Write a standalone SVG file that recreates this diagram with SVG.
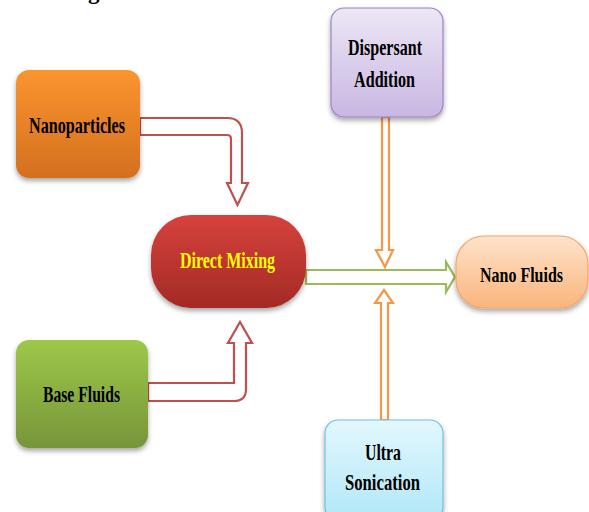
<svg xmlns="http://www.w3.org/2000/svg" width="589" height="512" viewBox="0 0 589 512">
<defs>
<linearGradient id="gOrange" x1="0" y1="0" x2="0" y2="1"><stop offset="0" stop-color="#FA952F"/><stop offset="1" stop-color="#D4701E"/></linearGradient>
<linearGradient id="gRed" x1="0" y1="0" x2="0" y2="1"><stop offset="0" stop-color="#D6423C"/><stop offset="1" stop-color="#A32A26"/></linearGradient>
<linearGradient id="gGreen" x1="0" y1="0" x2="0" y2="1"><stop offset="0" stop-color="#9DC849"/><stop offset="1" stop-color="#77953A"/></linearGradient>
<linearGradient id="gPurple" x1="0" y1="0" x2="0" y2="1"><stop offset="0" stop-color="#EDE7F5"/><stop offset="1" stop-color="#C8B7E2"/></linearGradient>
<linearGradient id="gPeach" x1="0" y1="0" x2="0" y2="1"><stop offset="0" stop-color="#FEE3CC"/><stop offset="1" stop-color="#FAB57C"/></linearGradient>
<linearGradient id="gCyan" x1="0" y1="0" x2="0" y2="1"><stop offset="0" stop-color="#E2F7FD"/><stop offset="1" stop-color="#B2E8F8"/></linearGradient>
<filter id="sh" x="-20%" y="-20%" width="140%" height="150%"><feDropShadow dx="0" dy="3" stdDeviation="2.5" flood-color="#000" flood-opacity="0.35"/></filter>
</defs>
<style>
.lbl{font-family:"Liberation Serif","Times New Roman",serif;font-weight:bold;font-size:23px;fill:#000;}
.hollow{fill:#fff;stroke-width:2.2;stroke-linejoin:miter;}
.red{stroke:#C0504D;}
.grn{stroke:#9BBB59;}
.org{stroke:#F79646;}
</style>
<text class="lbl" x="88" y="-1">g</text>
<g id="connectors">
<path class="hollow red" d="M140,118 H227 Q242,118 242,133 V183 H248 L237.5,205 L227,183 H231 V139 Q231,135 227,135 H140 Z"/>
<path class="hollow red" d="M148,383 H234 V343 H228 L240,322 L252,343 H246 V389 Q246,401 234,401 H148 Z"/>
<path class="hollow grn" d="M306,270 H446 V262 L455,277 L446,292 V284 H306 Z"/>
<path class="hollow org" d="M382,117 H389 V250 H393 L385,267 L376,250 H382 Z"/>
<path class="hollow org" d="M381,420 V303 H375 L384,290 L393,303 H388 V420 Z"/>
</g>
<g id="nanoparticles">
<rect x="16" y="70" width="124" height="108" rx="13" fill="url(#gOrange)" filter="url(#sh)"/>
<text class="lbl" x="29" y="133" textLength="96" lengthAdjust="spacingAndGlyphs">Nanoparticles</text>
</g>
<g id="direct-mixing">
<rect x="151" y="215" width="155" height="93" rx="40" fill="url(#gRed)" filter="url(#sh)"/>
<text class="lbl" x="180" y="268" textLength="95" lengthAdjust="spacingAndGlyphs" style="fill:#FFFF00">Direct Mixing</text>
</g>
<g id="base-fluids">
<rect x="16" y="340" width="132" height="108" rx="13" fill="url(#gGreen)" filter="url(#sh)"/>
<text class="lbl" x="43" y="402" textLength="77" lengthAdjust="spacingAndGlyphs">Base Fluids</text>
</g>
<g id="dispersant-addition">
<rect x="331" y="8" width="112" height="109" rx="13" fill="url(#gPurple)" stroke="#9C82C6" stroke-width="1.2" filter="url(#sh)"/>
<text class="lbl" x="348" y="55" textLength="74" lengthAdjust="spacingAndGlyphs">Dispersant</text>
<text class="lbl" x="354" y="87" textLength="61" lengthAdjust="spacingAndGlyphs">Addition</text>
</g>
<g id="nano-fluids">
<rect x="456" y="236" width="132" height="72" rx="28" fill="url(#gPeach)" stroke="#F4A66A" stroke-width="1.2" filter="url(#sh)"/>
<text class="lbl" x="480" y="282" textLength="83" lengthAdjust="spacingAndGlyphs" style="font-size:21px">Nano Fluids</text>
</g>
<g id="ultra-sonication">
<rect x="325" y="420" width="118" height="100" rx="13" fill="url(#gCyan)" stroke="#6FC3DB" stroke-width="1.2" filter="url(#sh)"/>
<text class="lbl" x="365" y="460" textLength="36" lengthAdjust="spacingAndGlyphs">Ultra</text>
<text class="lbl" x="345" y="490" textLength="75" lengthAdjust="spacingAndGlyphs">Sonication</text>
</g>
</svg>
